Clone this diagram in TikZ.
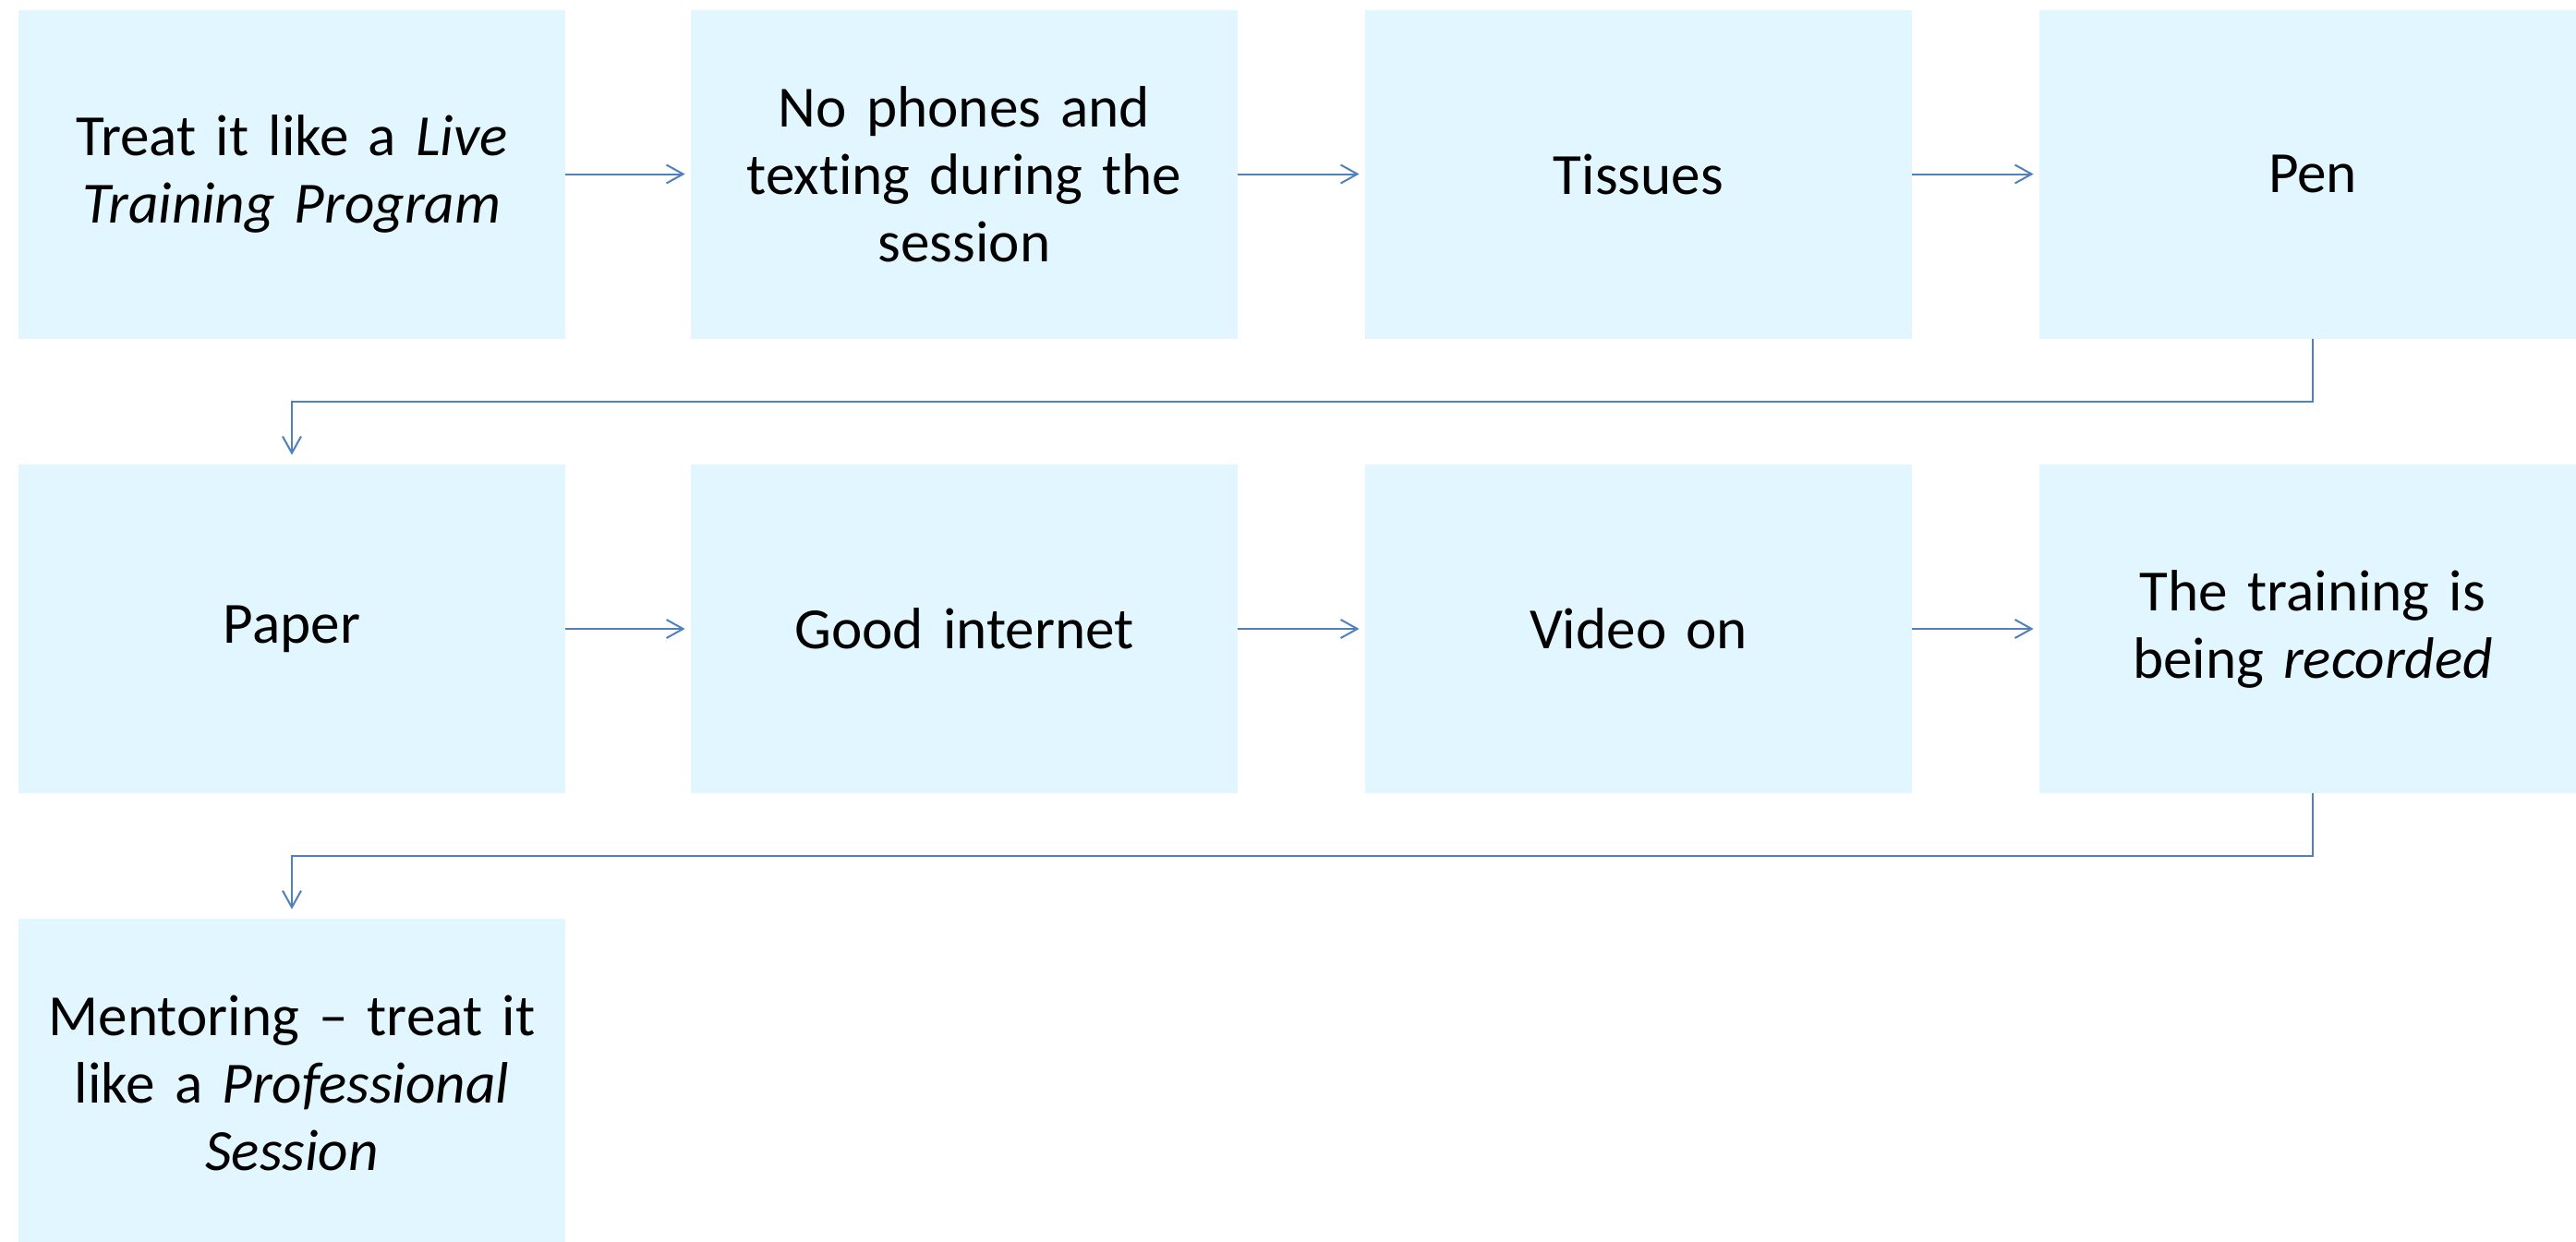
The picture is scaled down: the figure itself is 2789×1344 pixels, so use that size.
\documentclass[tikz,border=0pt]{standalone}
\usepackage{fontspec}
\setmainfont[Ligatures=NoCommon]{Carlito}
\usetikzlibrary{arrows.meta}
\definecolor{boxfill}{HTML}{E1F6FE}
\definecolor{arrowblue}{HTML}{4F81BD}
\begin{document}
\begin{tikzpicture}[x=0.5pt,y=-0.5pt,
  box/.style={rectangle,fill=boxfill,draw=none,minimum width=296pt,minimum height=178pt,
    inner sep=0pt,align=center,text width=285pt,font=\fontsize{31.6}{36.5}\selectfont},
  conn/.style={draw=arrowblue,line width=1pt,-{Straight Barb[length=9pt,width=10pt,line width=1pt]},shorten >=3pt}]
\useasboundingbox (0,0) rectangle (2789,1344);
\fill[white] (0,0) rectangle (2789,1344);
\node[box] (live) at (316,188.5) {Treat it like a \textit{Live}\\\textit{Training Program}};
\node[box] (phones) at (1044,188.5) {No phones and\\texting during the\\session};
\node[box] (tissues) at (1774,188.5) {Tissues};
\node[box] (pen) at (2504,188.5) {Pen};
\node[box] (paper) at (316,681) {Paper};
\node[box] (internet) at (1044,681) {Good internet};
\node[box] (video) at (1774,681) {Video on};
\node[box] (rec) at (2504,681) {The training is\\being \textit{recorded}};
\node[box] (mentor) at (316,1173) {Mentoring -- treat it\\like a \textit{Professional}\\\textit{Session}};
\draw[conn] (live) -- (phones);
\draw[conn] (phones) -- (tissues);
\draw[conn] (tissues) -- (pen);
\draw[conn,shorten >=5pt] (pen.south) -- ++(0,68) -| (paper.north);
\draw[conn] (paper) -- (internet);
\draw[conn] (internet) -- (video);
\draw[conn] (video) -- (rec);
\draw[conn,shorten >=5pt] (rec.south) -- ++(0,68) -| (mentor.north);
\end{tikzpicture}
\end{document}
